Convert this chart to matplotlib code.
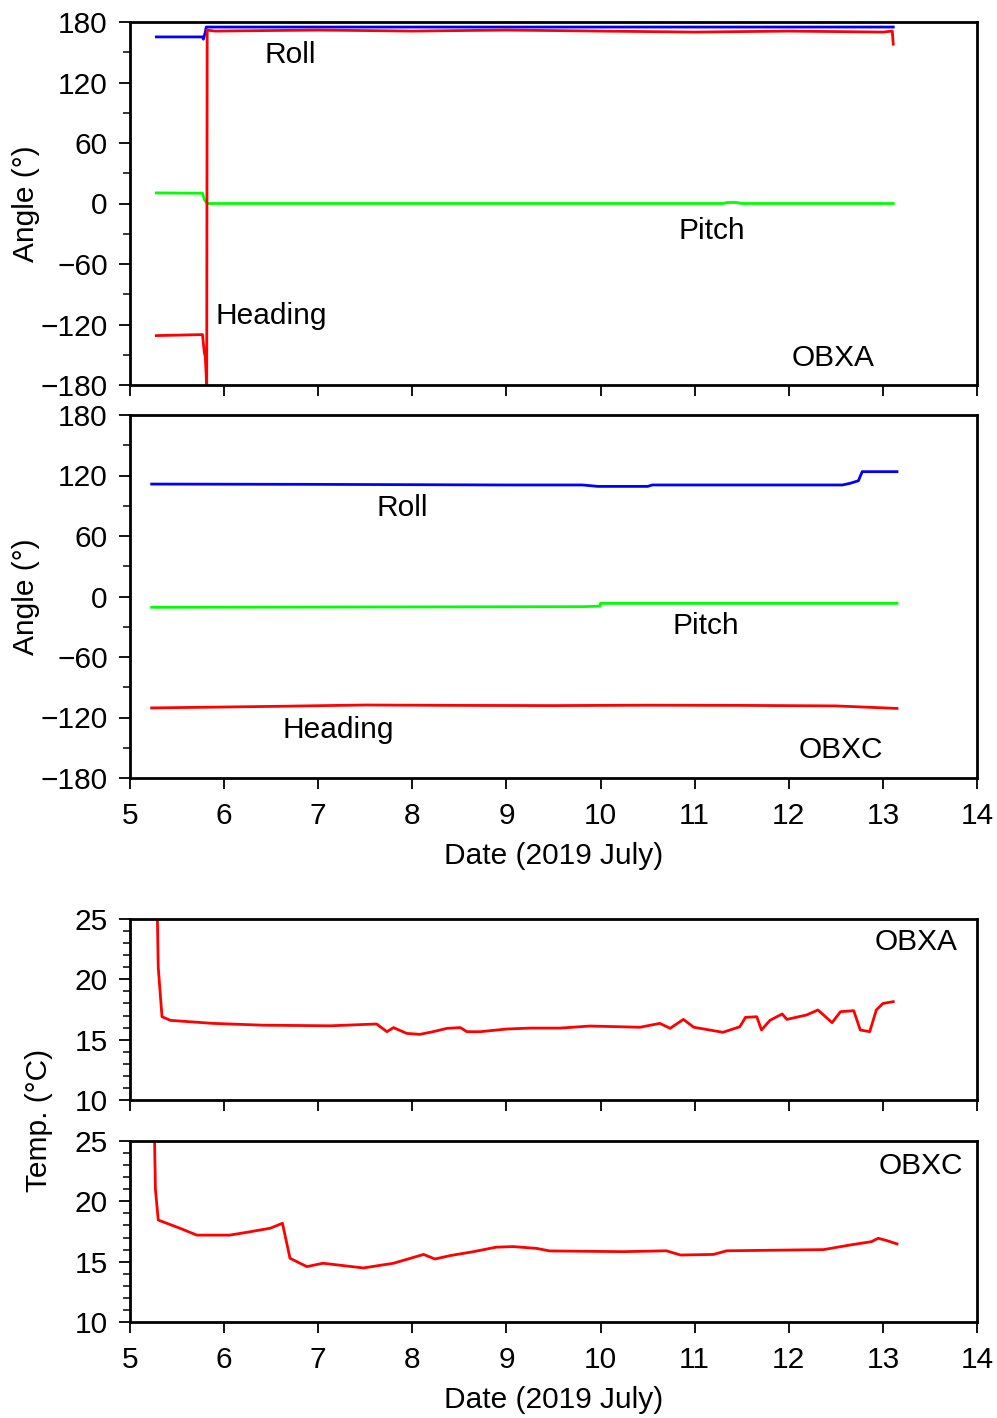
import matplotlib
matplotlib.use("Agg")
import matplotlib.pyplot as plt
from matplotlib.ticker import MultipleLocator

plt.rcParams['font.family'] = ['Liberation Sans', 'DejaVu Sans']

# ---- OBXA attitude (deg) ----
a_roll_x = [5.28, 5.77, 5.78, 5.80, 5.81, 13.11]
a_roll = [165.2, 165.2, 163.0, 170.0, 175.0, 175.0]

a_pitch_x = [5.28, 5.77, 5.79, 5.82, 11.30, 11.35, 11.45, 11.50, 13.11]
a_pitch = [10.5, 10.2, 4.0, 0.0, 0.0, 1.0, 1.0, 0.0, 0.0]

a_head_x = [5.28, 5.77, 5.79, 5.80, 5.815, 5.82, 5.9, 7.0, 8.0, 9.0, 10.0,
            11.0, 12.0, 13.0, 13.10, 13.11]
a_head = [-131, -130, -148, -152, -180, 172, 171, 172, 171, 172, 171,
          170, 171, 170, 171, 158]

# ---- OBXC attitude (deg) ----
c_roll_x = [5.23, 7.0, 9.0, 9.81, 9.97, 10.5, 10.55, 12.57, 12.65, 12.74, 12.78, 13.15]
c_roll = [111.5, 111.2, 110.6, 110.6, 109.2, 109.2, 110.6, 110.6, 112.2, 114.8, 123.8, 123.8]

c_pitch_x = [5.23, 9.80, 9.99, 10.0, 13.15]
c_pitch = [-10.7, -10.1, -9.6, -6.8, -6.8]

c_head_x = [5.23, 6.5, 7.5, 8.5, 9.5, 10.5, 11.5, 12.5, 13.15]
c_head = [-110.5, -109, -107.6, -108, -108.2, -107.8, -108, -108.5, -111]

# ---- temperatures (degC) ----
ta_x = [5.28, 5.30, 5.34, 5.43, 5.88, 6.41, 7.13, 7.62, 7.73, 7.80, 7.94, 8.08,
        8.22, 8.37, 8.51, 8.58, 8.72, 9.00, 9.25, 9.57, 9.89, 10.42, 10.63,
        10.74, 10.88, 10.99, 11.30, 11.48, 11.54, 11.66, 11.71, 11.80, 11.93,
        11.98, 12.19, 12.31, 12.46, 12.55, 12.69, 12.76, 12.86, 12.93, 13.00, 13.11]
ta = [30.0, 21.0, 16.9, 16.6, 16.35, 16.2, 16.15, 16.3, 15.66, 16.0, 15.52, 15.44,
      15.66, 15.94, 16.0, 15.66, 15.66, 15.88, 15.96, 15.96, 16.13, 16.03, 16.35,
      15.94, 16.68, 16.03, 15.61, 16.07, 16.85, 16.9, 15.8, 16.6, 17.13,
      16.68, 17.05, 17.46, 16.41, 17.32, 17.4, 15.8, 15.66, 17.46, 18.0, 18.15]

tc_x = [5.25, 5.27, 5.30, 5.53, 5.71, 6.06, 6.24, 6.49, 6.62, 6.70, 6.88, 7.05,
        7.48, 7.80, 7.98, 8.12, 8.24, 8.40, 8.65, 8.89, 9.07, 9.32, 9.46,
        10.24, 10.70, 10.85, 11.20, 11.34, 12.37, 12.65, 12.88, 12.95, 13.04, 13.15]
tc = [30.0, 21.0, 18.45, 17.77, 17.2, 17.2, 17.43, 17.77, 18.18, 15.28, 14.59, 14.87,
      14.48, 14.87, 15.28, 15.6, 15.22, 15.5, 15.83, 16.2, 16.25, 16.1, 15.89,
      15.83, 15.9, 15.55, 15.6, 15.9, 16.0, 16.38, 16.66, 16.94, 16.75, 16.47]

W, H = 997, 1418
fig = plt.figure(figsize=(W / 100, H / 100), dpi=100)
FS = 21.5


def make_ax(top, bottom):
    return fig.add_axes([130 / W, 1 - bottom / H, 847 / W, (bottom - top) / H])


def style(ax, show_x):
    for s in ax.spines.values():
        s.set_linewidth(2)
    ax.set_xlim(5, 14)
    ax.xaxis.set_major_locator(MultipleLocator(1))
    ax.tick_params(which='major', direction='out', length=8, width=1.3,
                   labelsize=FS, pad=8)
    ax.tick_params(axis='x', which='major', pad=9)
    ax.tick_params(which='minor', direction='out', length=5, width=1.1)
    ax.tick_params(axis='x', which='minor', bottom=False)
    if not show_x:
        ax.tick_params(axis='x', labelbottom=False)


lw = 2.0
txt = dict(fontsize=FS, ha='center', va='center')

# panel 1
ax1 = make_ax(22, 385)
ax1.plot(a_roll_x, a_roll, color='#0000ff', lw=lw)
ax1.plot(a_pitch_x, a_pitch, color='#00ff00', lw=lw)
ax1.plot(a_head_x, a_head, color='#ff0000', lw=lw)
ax1.set_ylim(-180, 180)
ax1.yaxis.set_major_locator(MultipleLocator(60))
ax1.yaxis.set_minor_locator(MultipleLocator(30))
style(ax1, False)
ax1.set_ylabel('Angle (°)', fontsize=FS)
ax1.yaxis.set_label_coords(-0.106, 0.5)
ax1.text(6.70, 147, 'Roll', **txt)
ax1.text(11.18, -27, 'Pitch', **txt)
ax1.text(6.50, -112, 'Heading', **txt)
ax1.text(12.47, -153, 'OBXA', **txt)

# panel 2
ax2 = make_ax(415, 778)
ax2.plot(c_roll_x, c_roll, color='#0000ff', lw=lw)
ax2.plot(c_pitch_x, c_pitch, color='#00ff00', lw=lw)
ax2.plot(c_head_x, c_head, color='#ff0000', lw=lw)
ax2.set_ylim(-180, 180)
ax2.yaxis.set_major_locator(MultipleLocator(60))
ax2.yaxis.set_minor_locator(MultipleLocator(30))
style(ax2, True)
ax2.set_ylabel('Angle (°)', fontsize=FS)
ax2.yaxis.set_label_coords(-0.106, 0.5)
ax2.set_xlabel('Date (2019 July)', fontsize=FS, labelpad=9)
ax2.text(7.89, 88, 'Roll', **txt)
ax2.text(11.12, -29, 'Pitch', **txt)
ax2.text(7.21, -132, 'Heading', **txt)
ax2.text(12.55, -152, 'OBXC', **txt)

# panel 3
ax3 = make_ax(919, 1100)
ax3.plot(ta_x, ta, color='#ff0000', lw=lw)
ax3.set_ylim(10, 25)
ax3.yaxis.set_major_locator(MultipleLocator(5))
ax3.yaxis.set_minor_locator(MultipleLocator(1))
style(ax3, False)
ax3.text(13.35, 23.1, 'OBXA', **txt)

# panel 4
ax4 = make_ax(1141, 1322)
ax4.plot(tc_x, tc, color='#ff0000', lw=lw)
ax4.set_ylim(10, 25)
ax4.yaxis.set_major_locator(MultipleLocator(5))
ax4.yaxis.set_minor_locator(MultipleLocator(1))
style(ax4, True)
ax4.set_xlabel('Date (2019 July)', fontsize=FS, labelpad=9)
ax4.text(13.40, 22.9, 'OBXC', **txt)

fig.text(39 / W, 1 - 1120 / H, 'Temp. (°C)', rotation=90, fontsize=FS,
         ha='center', va='center')

fig.savefig('out.png', dpi=100)
